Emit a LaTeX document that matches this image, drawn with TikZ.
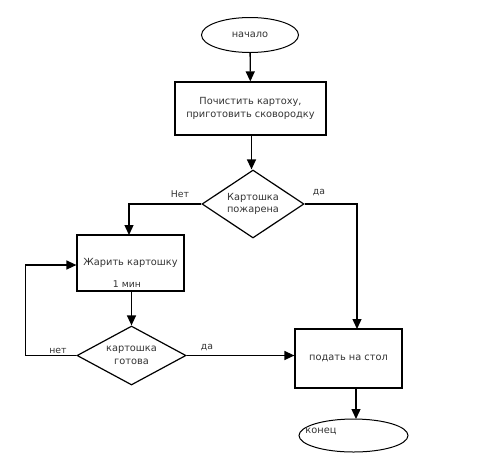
\documentclass[tikz,border=0pt]{standalone}
\usepackage{fontspec}
\setmainfont{DejaVu Sans}
\usetikzlibrary{shapes.geometric,arrows.meta,calc}
\begin{document}
\begin{tikzpicture}[x=1pt,y=-1pt,
  every node/.style={font=\fontsize{9.8}{12.5}\selectfont, text=black!80, inner sep=0pt},
  term/.style={ellipse, draw, line width=1pt},
  proc/.style={rectangle, draw, line width=1.2pt, align=center},
  dec/.style={diamond, draw, line width=1.2pt, align=center},
  lbl/.style={font=\fontsize{9.3}{11}\selectfont},
  arr/.style={line width=1.3pt, -{Triangle[length=10pt,width=9pt]}},
  ln/.style={line width=1.3pt}]
\useasboundingbox (0,0) rectangle (500,467);
\node[term, minimum width=97, minimum height=35] (start) at (250,35) {начало};
\node[proc, minimum width=151, minimum height=53] (box1) at (250.5,108.5) {Почистить картоху,\\приготовить сковородку};
\node[dec, aspect=1.5, minimum width=102, minimum height=68] (d1) at (253,204) {Картошка\\пожарена};
\node[proc, minimum width=107, minimum height=56] (box2) at (130.5,263) {Жарить картошку};
\node[lbl] (min) at (127,284) {1 мин};
\node[dec, aspect=1.85, minimum width=109, minimum height=59] (d2) at (131.5,355.5) {картошка\\готова};
\node[proc, minimum width=107, minimum height=59] (box3) at (348.5,358.5) {подать на стол};
\node[ellipse, draw, line width=1pt, minimum width=109, minimum height=33] (end) at (353.5,435.5) {};
\node (endt) at (321,431) {конец};
\node[lbl] (net1) at (180,194) {Нет};
\node[lbl] (da1) at (319,193) {да};
\node[lbl] (net2) at (58,351) {нет};
\node[lbl] (da2) at (207,348) {да};
\coordinate (c0) at (251.5,135);
\coordinate (c3) at (357,329);
\coordinate (c4) at (356,388);
\coordinate (c5) at (356,419);
\coordinate (c2) at (129,235);
\draw[arr] (start) -- (box1);
\draw[arr] (c0) -- (c0 |- d1.north);
\draw[arr] (d1.west) -| (c2);
\draw[arr] (d1.east) -| (c3);
\draw[arr] (box2.south -| d2.north) -- (d2.north);
\draw[ln] (d2.west) -- ++(-51,0) coordinate (lp);
\draw[arr] (lp) |- ($(box2.west)+(0,2)$);
\draw[arr] (d2.east) -- (d2.east -| box3.west);
\draw[arr] (c4) -- (c5);
\end{tikzpicture}
\end{document}
